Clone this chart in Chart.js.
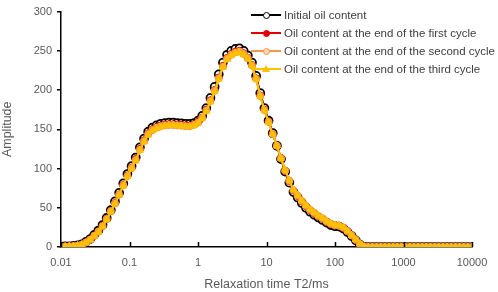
<!DOCTYPE html>
<html>
<head>
<meta charset="utf-8">
<script src="https://cdn.jsdelivr.net/npm/chart.js@4.4.0/dist/chart.umd.min.js"></script>
<style>
html, body { margin: 0; padding: 0; background: #fff; }
#wrap { position: relative; width: 498px; height: 292px; }
#legend { position: absolute; left: 251px; top: 6px; font-family: "Liberation Sans", Arial, sans-serif; font-size: 11.5px; color: #404040; }
.row { position: relative; height: 18px; line-height: 18px; padding-left: 33px; white-space: nowrap; }
.ln { position: absolute; left: 0; top: 8px; width: 30px; height: 2px; }
.mk { position: absolute; box-sizing: border-box; }
</style>
</head>
<body>
<div id="wrap">
  <canvas id="c" width="498" height="292"></canvas>
  <div id="legend"></div>
</div>
<script>
// relaxation time T2 (ms), log spaced grid
const tValues = [
  0.01, 0.0115, 0.01322, 0.0152, 0.01748, 0.02009, 0.0231, 0.02656, 0.03054, 0.03511,
  0.04037, 0.04642, 0.05337, 0.06136, 0.07055, 0.08111, 0.09326, 0.1072, 0.1233, 0.1418,
  0.163, 0.1874, 0.2154, 0.2477, 0.2848, 0.3275, 0.3765, 0.4329, 0.4977, 0.5722,
  0.6579, 0.7565, 0.8697, 1.0, 1.15, 1.322, 1.52, 1.748, 2.009, 2.31,
  2.656, 3.054, 3.511, 4.037, 4.642, 5.337, 6.136, 7.055, 8.111, 9.326,
  10.72, 12.33, 14.18, 16.3, 18.74, 21.54, 24.77, 28.48, 32.75, 37.65,
  43.29, 49.77, 57.22, 65.79, 75.65, 86.97, 100, 115, 132.2, 152,
  174.8, 200.9, 231, 265.6, 305.4, 351.1, 403.7, 464.2, 533.7, 613.6,
  705.5, 811.1, 932.6, 1072, 1233, 1418, 1630, 1874, 2154, 2477,
  2848, 3275, 3765, 4329, 4977, 5722, 6579, 7565, 8697, 10000
];

const initialOil = [
  0.5, 0.7, 0.9, 1.3, 2, 3.5, 6.5, 10, 15.5, 21,
  28, 37, 47, 58, 69, 81, 93, 103, 114, 127,
  138, 147, 152, 155, 157, 158, 158.5, 158.5, 158, 157.5,
  157, 157, 158, 161, 167, 177, 190, 204, 220, 235,
  245, 250, 252.5, 253, 250, 244, 235, 218, 196, 177,
  161, 145, 129, 112, 96, 82, 70, 63, 56, 50,
  45, 41, 37.5, 34.5, 31, 28, 26.5, 26, 23.5, 19,
  14, 8.5, 3, 0.3, 0, 0, 0, 0, 0, 0,
  0, 0, 0, 0, 0, 0, 0, 0, 0, 0,
  0, 0, 0, 0, 0, 0, 0, 0, 0, 0
];

const firstCycle = [
  0.5, 0.6, 0.8, 1.2, 1.9, 3.2, 6, 9.5, 14.5, 20,
  27, 36, 46, 56, 67, 79, 91, 101, 112, 125,
  136, 145, 150, 153, 155, 156, 156.5, 156.5, 156, 155.5,
  155, 155, 156.5, 159.5, 165, 175, 187, 200, 216, 231,
  241, 246, 249, 250, 247, 241, 232, 215, 193, 175,
  160, 144, 129, 113, 97, 84, 72, 65, 58, 52,
  47, 43, 39, 36, 32, 29, 27.5, 27, 24.5, 20,
  14.5, 9, 3.5, 0.4, 0, 0, 0, 0, 0, 0,
  0, 0, 0, 0, 0, 0, 0, 0, 0, 0,
  0, 0, 0, 0, 0, 0, 0, 0, 0, 0
];

const secondCycle = [
  0.5, 0.6, 0.8, 1.2, 1.8, 3.1, 5.7, 9.2, 14.2, 19.5,
  26.5, 35.5, 45.5, 55.5, 66.5, 78.5, 90.5, 100.5, 111, 124,
  135, 144, 149, 152, 154, 155, 155.5, 155.5, 155, 154.5,
  154, 154, 155.5, 158.5, 164.5, 174, 186, 199, 215, 230,
  240, 245, 248, 249, 246, 240.5, 231.5, 214.5, 192.5, 174.5,
  159.5, 144, 129, 113, 97.5, 84.5, 72.5, 65.5, 58.5, 52.5,
  47.5, 43.5, 39.5, 36.5, 32.5, 29.5, 27.8, 27.2, 24.8, 20.2,
  14.8, 9.2, 3.8, 0.5, 0, 0, 0, 0, 0, 0,
  0, 0, 0, 0, 0, 0, 0, 0, 0, 0,
  0, 0, 0, 0, 0, 0, 0, 0, 0, 0
];

const thirdCycle = [
  0.5, 0.6, 0.8, 1.2, 1.8, 3, 5.5, 9, 14, 19,
  26, 35, 45, 55, 66, 78, 90, 100, 110, 123,
  134, 143, 148, 151, 153, 154.5, 155, 155, 154.5, 154,
  153.5, 153.5, 155, 158, 164, 173, 185, 198, 214, 229,
  239, 244, 247, 248, 245, 240, 231, 214, 192, 174,
  159, 144, 129, 113, 98, 85, 73, 66, 59, 53,
  48, 44, 40, 37, 33, 30, 28, 27.5, 25, 20.5,
  15, 9.5, 4, 0.5, 0, 0, 0, 0, 0, 0,
  0, 0, 0, 0, 0, 0, 0, 0, 0, 0,
  0, 0, 0, 0, 0, 0, 0, 0, 0, 0
];

const seriesLabels = [
  'Initial oil content',
  'Oil content at the end of the first cycle',
  'Oil content at the end of the second cycle',
  'Oil content at the end of the third cycle'
];

const xTickValues = [0.01, 0.1, 1, 10, 100, 1000, 10000];
const yTickValues = [0, 50, 100, 150, 200, 250, 300];

const FONT = '"Liberation Sans", Arial, sans-serif';
const GREY = '#595959';

function pts(arr) {
  return tValues.map((t, i) => ({ x: t, y: arr[i] }));
}

const styles = [
  { line: '#000000', fill: '#ffffff', shape: 'circle', r: 4, bw: 1.75, lw: 2, order: 3 },
  { line: '#e00000', fill: '#e00000', shape: 'circle', r: 3.5, bw: 1, lw: 2, order: 2 },
  { line: '#f79646', fill: '#f79646', shape: 'circle', r: 3.5, bw: 1, lw: 2, order: 1 },
  { line: '#ffc000', fill: '#ffc000', shape: 'triangle', r: 4, bw: 1, lw: 2, order: 0 }
];

const allSeries = [initialOil, firstCycle, secondCycle, thirdCycle];

const datasets = allSeries.map((arr, i) => ({
  label: seriesLabels[i],
  data: pts(arr),
  borderColor: styles[i].line,
  borderWidth: styles[i].lw,
  backgroundColor: styles[i].fill,
  pointStyle: styles[i].shape,
  pointRadius: styles[i].r,
  pointBorderWidth: styles[i].bw,
  pointBorderColor: styles[i].line,
  pointBackgroundColor: styles[i].fill,
  tension: 0,
  order: styles[i].order
}));

// short tick marks pointing up into the plot on the x axis
const innerTicks = {
  id: 'innerTicks',
  afterDraw(chart) {
    const ctx = chart.ctx, xs = chart.scales.x, b = chart.chartArea.bottom;
    ctx.save();
    ctx.strokeStyle = '#000';
    ctx.lineWidth = 1.5;
    xTickValues.forEach(v => {
      const px = Math.round(xs.getPixelForValue(v)) + 0.5;
      ctx.beginPath();
      ctx.moveTo(px, b);
      ctx.lineTo(px, b - 5);
      ctx.stroke();
    });
    ctx.restore();
  }
};

new Chart(document.getElementById('c'), {
  type: 'line',
  data: { datasets: datasets },
  options: {
    responsive: false,
    animation: false,
    layout: { padding: { top: 6, right: 26, left: 0, bottom: 0 } },
    plugins: { legend: { display: false }, tooltip: { enabled: false } },
    scales: {
      x: {
        type: 'logarithmic',
        min: 0.01,
        max: 10000,
        afterBuildTicks: s => { s.ticks = xTickValues.map(v => ({ value: v })); },
        afterFit: s => { s.height = 45; },
        ticks: {
          autoSkip: false, maxRotation: 0, padding: 1,
          color: GREY, font: { family: FONT, size: 11 },
          callback: v => String(v)
        },
        grid: { display: false },
        border: { display: true, color: '#000', width: 1.5 },
        title: {
          display: true, text: 'Relaxation time T2/ms', color: GREY,
          font: { family: FONT, size: 12.5 }, padding: { top: 0, bottom: 0 }
        }
      },
      y: {
        min: 0,
        max: 300,
        afterBuildTicks: s => { s.ticks = yTickValues.map(v => ({ value: v })); },
        afterFit: s => { s.width = 61; },
        ticks: { padding: 5, color: GREY, font: { family: FONT, size: 11 } },
        grid: { drawOnChartArea: false, drawTicks: true, tickLength: 4, color: '#000', lineWidth: 1.5 },
        border: { display: true, color: '#000', width: 1.5 },
        title: {
          display: true, text: 'Amplitude', color: GREY,
          font: { family: FONT, size: 12.5 }, padding: { top: 0, bottom: 0 }
        }
      }
    }
  },
  plugins: [innerTicks]
});

// html legend with line + marker samples
const legend = document.getElementById('legend');
seriesLabels.forEach((label, i) => {
  const st = styles[i];
  const row = document.createElement('div');
  row.className = 'row';
  const ln = document.createElement('div');
  ln.className = 'ln';
  ln.style.background = st.line;
  row.appendChild(ln);
  const mk = document.createElement('div');
  mk.className = 'mk';
  if (st.shape === 'triangle') {
    mk.style.cssText = 'left:11px;top:5px;width:0;height:0;border-left:4px solid transparent;border-right:4px solid transparent;border-bottom:7px solid ' + st.line + ';';
  } else {
    const fill = i === 2 ? '#fbd5b5' : st.fill;
    const d = 7;
    mk.style.cssText = 'left:' + (15 - d / 2) + 'px;top:' + (9 - d / 2) + 'px;width:' + d + 'px;height:' + d + 'px;border-radius:50%;border:' + (i === 0 ? 1.75 : 1) + 'px solid ' + st.line + ';background:' + fill + ';';
  }
  row.appendChild(mk);
  row.appendChild(document.createTextNode(label));
  legend.appendChild(row);
});
</script>
</body>
</html>
